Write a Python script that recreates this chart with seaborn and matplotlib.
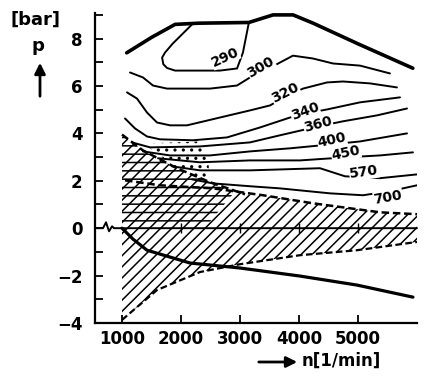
import numpy as np
import pandas as pd
import seaborn as sns
import matplotlib
matplotlib.use('Agg')
import matplotlib.pyplot as plt

# Full-load line (thick)
full_n = [1080, 1500, 1900, 2300, 3150, 3560, 3900, 4240, 5000, 5930]
full_p = [7.4, 8.05, 8.6, 8.65, 8.68, 9.0, 9.0, 8.65, 7.78, 6.75]

# BSFC contours [g/kWh], hand traced
c290_n = [2200, 1860, 1729, 1680, 1700, 1763, 1900, 2660, 2950, 3050, 3150]
c290_p = [8.63, 7.79, 7.41, 7.2, 6.92, 6.76, 6.65, 6.65, 6.74, 7.41, 8.67]
c300_n = [1136, 1356, 1525, 1763, 2492, 2949, 3170, 3424, 3678, 3898, 4237, 4576, 5034, 5542]
c300_p = [6.57, 6.36, 6.02, 5.89, 5.89, 6.02, 6.36, 6.65, 6.99, 7.28, 7.16, 6.95, 6.86, 6.53]
c320_n = [1085, 1254, 1424, 1593, 1814, 2102, 2661, 3170, 3509, 3780, 4068, 4475, 4746, 5203, 5661]
c320_p = [5.73, 5.47, 4.88, 4.46, 4.34, 4.34, 4.67, 4.97, 5.18, 5.56, 5.89, 6.15, 6.19, 6.11, 5.94]
c340_n = [1051, 1220, 1424, 1644, 2203, 2780, 3339, 3848, 4119, 4475, 5034, 5712]
c340_p = [4.63, 4.21, 3.87, 3.75, 3.71, 3.83, 4.25, 4.67, 4.84, 5.01, 5.31, 5.52]
c360_n = [1170, 1475, 2322, 3170, 3678, 4322, 4746, 5322, 5831]
c360_p = [3.62, 3.41, 3.45, 3.62, 3.92, 4.29, 4.51, 4.76, 5.05]
c400_n = [1356, 1814, 2492, 3170, 3848, 4560, 5034, 5831]
c400_p = [3.24, 3.07, 3.07, 3.24, 3.37, 3.54, 3.66, 4.0]
c450_n = [1610, 2322, 3170, 4017, 4797, 5373, 5932]
c450_p = [2.95, 2.78, 2.86, 2.86, 2.99, 3.07, 3.2]
c570_n = [1848, 2322, 3170, 4356, 4780, 5373, 6000]
c570_p = [2.61, 2.44, 2.44, 2.53, 2.19, 2.11, 2.27]
c700_n = [2187, 2542, 3170, 3678, 4526, 5085, 5543, 6000]
c700_p = [2.06, 1.89, 1.77, 1.68, 1.47, 1.39, 1.56, 1.81]

lab_txt = ['290', '300', '320', '340', '360', '400', '450', '570', '700']
lab_n = [2746, 3356, 3763, 4102, 4322, 4560, 4797, 5102, 5509]
lab_p = [7.2, 6.78, 5.73, 4.93, 4.38, 3.71, 3.16, 2.36, 1.31]
lab_rot = [25, 30, 27, 20, 15, 12, 12, 8, 10]

# hatched zone boundaries
diag_n = [1000, 1356, 1932, 2492, 3085]
diag_p = [3.95, 3.28, 2.53, 1.94, 1.43]
band_n = [1051, 1644, 2542, 3390, 4237, 5373, 6000]
band_p = [2.02, 1.81, 1.68, 1.39, 1.05, 0.67, 0.59]
low_n = [1000, 1593, 2322, 3000, 4017, 4983, 6000]
low_p = [-3.87, -2.61, -1.85, -1.52, -1.14, -0.93, -0.58]
dense_n = [1000, 1356, 1932, 2492, 2900, 2400, 1000]
dense_p = [3.95, 3.28, 2.53, 1.94, 1.5, 0.0, 0.0]
dots_n = [1475, 2322, 2460, 2492, 1932, 1475]
dots_p = [3.58, 3.66, 2.9, 1.94, 2.53, 3.37]

# motoring (drag) line
motor_n = [1000, 1186, 1424, 2153, 3000, 4017, 4983, 5932]
motor_p = [0.0, -0.46, -0.93, -1.47, -1.68, -2.02, -2.4, -2.91]

# zero line with break mark
zero_n = [542, 627, 678, 729, 780, 831, 864, 6000]
zero_p = [0, 0, 0, 0.25, -0.13, 0.08, 0, 0]
zero_ticks = [2000, 3000, 4000, 5000]

x_ticks = [1000, 2000, 3000, 4000, 5000]
y_ticks = [-4, -2, 0, 2, 4, 6, 8]
y_minor = [-3, -1, 1, 3, 5, 7, 9]

sns.set_theme(style='ticks')
plt.rcParams['font.family'] = ['DejaVu Sans']
plt.rcParams['font.weight'] = 'bold'
plt.rcParams['text.color'] = 'black'
plt.rcParams['hatch.linewidth'] = 1.1
plt.rcParams['hatch.color'] = 'black'

fig = plt.figure(figsize=(4.25, 3.79), dpi=100)
ax = fig.add_axes([0.2235, 0.1478, 0.7576, 0.8179])

# hatched region
poly_n = diag_n + band_n[3:] + low_n[::-1]
poly_p = diag_p + band_p[3:] + low_p[::-1]
ax.fill(poly_n, poly_p, facecolor='none', edgecolor='black', hatch='///', linewidth=0)
ax.fill(dense_n, dense_p, facecolor='none', edgecolor='black', hatch='--', linewidth=0)
ax.fill(dots_n, dots_p, facecolor='none', edgecolor='black', hatch='..', linewidth=0)

dash = (0, (3, 1.5))
ax.plot(diag_n, diag_p, color='black', lw=1.8, ls=dash)
ax.plot(band_n, band_p, color='black', lw=1.8, ls=dash)
ax.plot(low_n, low_p, color='black', lw=1.6, ls=dash)

for cn, cp in [(c290_n, c290_p), (c300_n, c300_p), (c320_n, c320_p), (c340_n, c340_p),
               (c360_n, c360_p), (c400_n, c400_p), (c450_n, c450_p), (c570_n, c570_p),
               (c700_n, c700_p)]:
    sns.lineplot(x=cn, y=cp, sort=False, estimator=None, color='black', lw=1.4, ax=ax)

sns.lineplot(x=full_n, y=full_p, sort=False, estimator=None, color='black', lw=2.6, ax=ax)
sns.lineplot(x=motor_n, y=motor_p, sort=False, estimator=None, color='black', lw=2.3, ax=ax)
ax.plot(zero_n, zero_p, color='black', lw=1.4, clip_on=False)
ax.plot(zero_ticks, [0] * len(zero_ticks), '|', color='black', ms=7, mew=1)

for t, n, p, r in zip(lab_txt, lab_n, lab_p, lab_rot):
    ax.text(n, p, t, rotation=r, ha='center', va='center', fontsize=10, fontweight='bold',
            color='black', bbox=dict(facecolor='white', edgecolor='none', pad=0.3), zorder=5)

ax.set_xlim(542, 6000)
ax.set_ylim(-4, 9.08)
ax.set_xticks(x_ticks)
ax.set_yticks(y_ticks)
ax.set_yticks(y_minor, minor=True)
ax.set_yticklabels([str(v).replace('-', '\u2212') for v in y_ticks])
ax.tick_params(axis='both', which='both', direction='in', length=6, width=1.3,
               labelsize=12, colors='black')
ax.tick_params(axis='y', pad=9)
ax.tick_params(axis='x', pad=5)
for lab in ax.get_xticklabels() + ax.get_yticklabels():
    lab.set_fontweight('bold')
for s in ['top', 'right']:
    ax.spines[s].set_visible(False)
for s in ['left', 'bottom']:
    ax.spines[s].set_linewidth(1.6)
    ax.spines[s].set_color('black')
ax.set_xlabel('')
ax.set_ylabel('')

# axis titles
fig.text(36 / 425, 1 - 20 / 379, '[bar]', fontsize=13, fontweight='bold', ha='center', va='center')
fig.text(38 / 425, 1 - 46 / 379, 'p', fontsize=13, fontweight='bold', ha='center', va='center')
ax.annotate('', xy=(40 / 425, 1 - 60 / 379), xytext=(40 / 425, 1 - 99 / 379),
            xycoords='figure fraction', textcoords='figure fraction',
            arrowprops=dict(arrowstyle='-|>', lw=2, color='black', mutation_scale=16))
ax.annotate('', xy=(300 / 425, 1 - 362 / 379), xytext=(256 / 425, 1 - 362 / 379),
            xycoords='figure fraction', textcoords='figure fraction',
            arrowprops=dict(arrowstyle='-|>', lw=2, color='black', mutation_scale=16))
fig.text(302 / 425, 1 - 361 / 379, 'n[1/min]', fontsize=12, fontweight='bold', ha='left', va='center')

fig.savefig('out.png', dpi=100, facecolor='white')
